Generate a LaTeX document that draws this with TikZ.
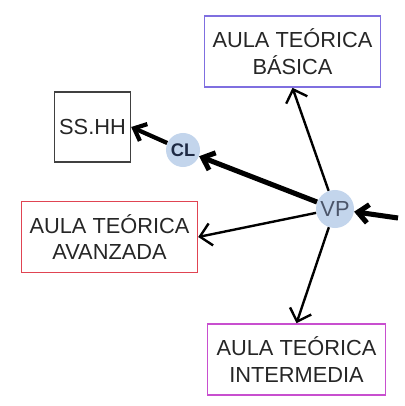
\documentclass[tikz,border=0pt]{standalone}
\usepackage{fontspec}
\setmainfont{Liberation Sans}
\usetikzlibrary{arrows.meta,positioning}

\definecolor{lineaBasica}{HTML}{7F6FE0}
\definecolor{lineaAvanzada}{HTML}{E04452}
\definecolor{lineaIntermedia}{HTML}{C84FCF}
\definecolor{rellenoPunto}{HTML}{C3D5EC}
\definecolor{textoPunto}{HTML}{1E2A44}

\tikzset{
    aula/.style = {
        draw,
        line width = 1pt,
        align = center,
        minimum width = 4.4cm,
        minimum height = 1.78cm,
        font = \fontsize{15.5}{19}\selectfont,
        text = black!85
    },
    punto/.style = {
        circle,
        fill = rellenoPunto,
        inner sep = 0pt
    },
    flecha/.style = {
        line width = 1.7pt,
        -{Straight Barb[length=2.8mm,width=5.6mm]}
    },
    flechagruesa/.style = {
        line width = 3.6pt,
        -{Straight Barb[length=2.6mm,width=4.6mm]}
    }
}

\begin{document}
\begin{tikzpicture}[x=0.025cm,y=-0.025cm]
    \useasboundingbox (0,0) rectangle (405,406);

    % ambientes
    \node[aula, draw = lineaBasica] (basica) at (292.5,51.5) {AULA TEÓRICA\\BÁSICA};
    \node[aula, draw = lineaAvanzada] (avanzada) at (109.5,237) {AULA TEÓRICA\\AVANZADA};
    \node[aula, draw = lineaIntermedia, minimum width = 4.45cm] (intermedia) at (296.5,359.5) {AULA TEÓRICA\\INTERMEDIA};
    \node[aula, draw = black!75, minimum width = 1.68cm, minimum height = 1.75cm] (sshh) at (92.5,127) {SS.HH};

    % puntos de circulacion
    \node[punto, minimum size = 0.85cm, font = \bfseries\fontsize{13}{15}\selectfont, text = textoPunto] (cl) at (183,150) {CL};
    \node[punto, minimum size = 0.95cm, font = \fontsize{15.5}{17}\selectfont, text = textoPunto!80] (vp) at (335,209) {VP};
    \coordinate (entrada) at (398,218);

    % recorridos
    \draw[flechagruesa] (entrada) -- (vp);
    \draw[flechagruesa] (vp) -- (cl);
    \draw[flechagruesa, line width = 3pt] (cl) -- (sshh.east);
    \draw[flecha] (vp) -- (basica.south);
    \draw[flecha] (vp) -- (avanzada.east);
    \draw[flecha] (vp) -- (intermedia.north);
\end{tikzpicture}
\end{document}
